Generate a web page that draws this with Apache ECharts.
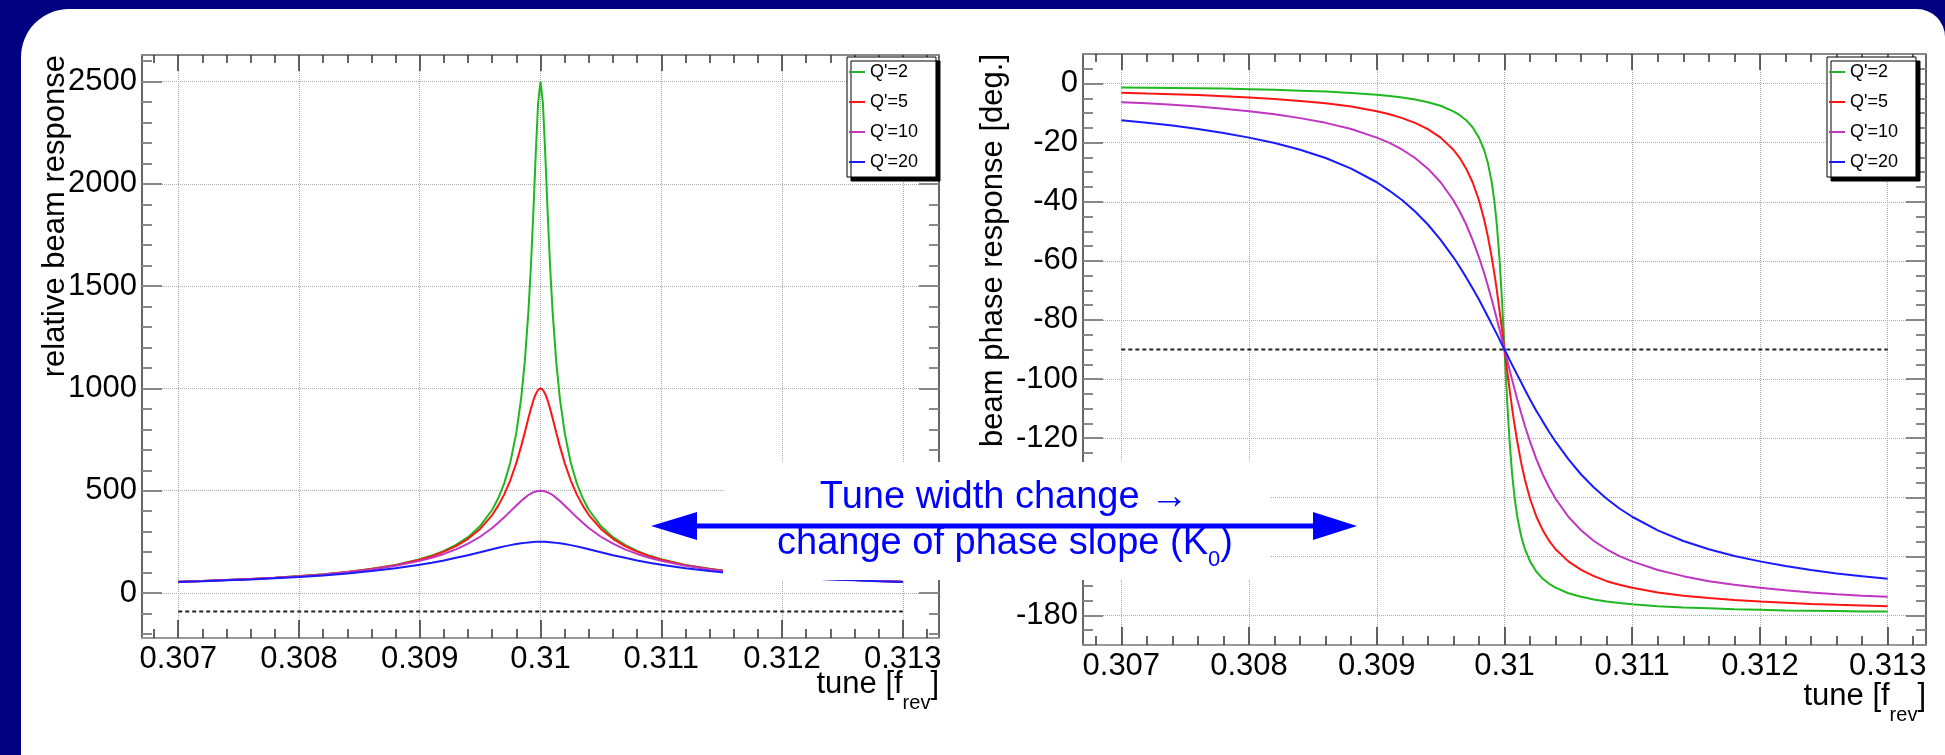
<!DOCTYPE html>
<html>
<head>
<meta charset="utf-8">
<script src="https://cdn.jsdelivr.net/npm/echarts@6/dist/echarts.min.js"></script>
<style>
  html, body { margin: 0; padding: 0; background: #000080; }
  #chart { width: 1945px; height: 755px; }
</style>
</head>
<body>
<div id="chart"></div>
<script>
// tune samples (fraction of f_rev), denser near the resonance at 0.31
const tune = [0.307, 0.3072, 0.3074, 0.3076, 0.3078, 0.308, 0.3082, 0.3084, 0.3086, 0.3088,
              0.309, 0.3091, 0.3092, 0.3093, 0.3094, 0.3095, 0.3096, 0.30965, 0.3097, 0.30975,
              0.3098, 0.30984, 0.30987, 0.3099, 0.30992, 0.30994, 0.30996, 0.30998, 0.31,
              0.31002, 0.31004, 0.31006, 0.31008, 0.3101, 0.31013, 0.31016, 0.3102, 0.31025,
              0.3103, 0.31035, 0.3104, 0.3105, 0.3106, 0.3107, 0.3108, 0.3109, 0.311,
              0.3112, 0.3114, 0.3116, 0.3118, 0.312, 0.3122, 0.3124, 0.3126, 0.3128, 0.313];

// relative beam response (left panel)
const ampQ2 = [55, 59, 63, 69, 75, 83, 92, 103, 118, 137, 165, 183, 206, 235, 273, 327, 407, 463, 537, 638,
               784, 953, 1132, 1377, 1591, 1850, 2138, 2393, 2500,
               2393, 2138, 1850, 1591, 1377, 1132, 953, 784, 638, 537, 463, 407, 327, 273, 235, 206, 183, 165,
               137, 118, 103, 92, 83, 75, 69, 63, 59, 55];
const ampQ5 = [55, 59, 63, 69, 75, 82, 91, 103, 117, 136, 163, 180, 202, 229, 265, 313, 381, 427, 482, 551,
               636, 718, 785, 855, 900, 940, 972, 993, 1000,
               993, 972, 940, 900, 855, 785, 718, 636, 551, 482, 427, 381, 313, 265, 229, 202, 180, 163,
               136, 117, 103, 91, 82, 75, 69, 63, 59, 55];
const ampQ10 = [55, 59, 63, 68, 74, 81, 90, 101, 115, 133, 157, 172, 191, 213, 241, 275, 318, 343, 370, 399,
                428, 450, 465, 479, 486, 492, 496, 499, 500,
                499, 496, 492, 486, 479, 465, 450, 428, 399, 370, 343, 318, 275, 241, 213, 191, 172, 157,
                133, 115, 101, 90, 81, 74, 68, 63, 59, 55];
const ampQ20 = [54, 57, 62, 66, 72, 78, 86, 95, 107, 121, 138, 148, 159, 172, 185, 199, 214, 221, 228, 234,
                239, 243, 245, 247, 248, 249, 250, 250, 250,
                250, 250, 249, 248, 247, 245, 243, 239, 234, 228, 221, 214, 199, 185, 172, 159, 148, 138,
                121, 107, 95, 86, 78, 72, 66, 62, 57, 54];

// beam phase response in degrees (right panel)
const phaseQ2 = [-1.3, -1.4, -1.5, -1.6, -1.7, -1.9, -2.1, -2.4, -2.7, -3.2, -3.8, -4.2, -4.7, -5.4, -6.3,
                 -7.5, -9.4, -10.7, -12.4, -14.8, -18.3, -22.4, -26.9, -33.4, -39.5, -47.7, -58.8, -73.1, -90,
                 -106.9, -121.2, -132.3, -140.5, -146.6, -153.1, -157.6, -161.7, -165.2, -167.6, -169.3, -170.6,
                 -172.5, -173.7, -174.6, -175.3, -175.8, -176.2, -176.9, -177.3, -177.6, -177.9, -178.1, -178.3,
                 -178.4, -178.5, -178.7, -178.7];
const phaseQ5 = [-3.1, -3.4, -3.6, -3.9, -4.3, -4.7, -5.2, -5.9, -6.7, -7.8, -9.4, -10.4, -11.7, -13.3, -15.4,
                 -18.3, -22.4, -25.2, -28.8, -33.4, -39.5, -45.9, -51.8, -58.8, -64.1, -70.0, -76.4, -83.1, -90,
                 -96.9, -103.6, -110.0, -115.9, -121.2, -128.2, -134.1, -140.5, -146.6, -151.2, -154.8, -157.6,
                 -161.7, -164.6, -166.7, -168.4, -169.6, -170.6, -172.2, -173.3, -174.1, -174.8, -175.3, -175.7,
                 -176.1, -176.4, -176.6, -176.9];
const phaseQ10 = [-6.3, -6.7, -7.2, -7.8, -8.5, -9.4, -10.4, -11.7, -13.3, -15.4, -18.3, -20.1, -22.4, -25.2,
                  -28.8, -33.4, -39.5, -43.3, -47.7, -52.9, -58.8, -64.1, -68.5, -73.1, -76.4, -79.7, -83.1, -86.5, -90,
                  -93.5, -96.9, -100.3, -103.6, -106.9, -111.5, -115.9, -121.2, -127.2, -132.3, -136.7, -140.5,
                  -146.6, -151.2, -154.8, -157.6, -159.9, -161.7, -164.6, -166.7, -168.4, -169.6, -170.6, -171.5,
                  -172.2, -172.8, -173.3, -173.7];
const phaseQ20 = [-12.4, -13.3, -14.2, -15.4, -16.7, -18.3, -20.1, -22.4, -25.2, -28.8, -33.4, -36.3, -39.5,
                  -43.3, -47.7, -52.9, -58.8, -62.1, -65.6, -69.3, -73.1, -76.4, -78.9, -81.4, -83.1, -84.8, -86.5,
                  -88.3, -90,
                  -91.7, -93.5, -95.2, -96.9, -98.6, -101.1, -103.6, -106.9, -110.8, -114.4, -117.9, -121.2,
                  -127.1, -132.3, -136.7, -140.5, -143.8, -146.6, -151.2, -154.8, -157.6, -159.9, -161.7, -163.3,
                  -164.6, -165.8, -166.7, -167.6];

// dashed reference line at -90
const refX = [0.307, 0.313];
const refY = [-90, -90];

const names = ["Q'=2", "Q'=5", "Q'=10", "Q'=20"];
const colors = ['#1fb81f', '#ff1414', '#c036c0', '#1a1aff'];

const tuneTicks = [0.307, 0.308, 0.309, 0.31, 0.311, 0.312, 0.313];
const tuneMinorTicks = [0.3068, 0.307, 0.3072, 0.3074, 0.3076, 0.3078, 0.308, 0.3082, 0.3084, 0.3086, 0.3088,
                        0.309, 0.3092, 0.3094, 0.3096, 0.3098, 0.31, 0.3102, 0.3104, 0.3106, 0.3108, 0.311,
                        0.3112, 0.3114, 0.3116, 0.3118, 0.312, 0.3122, 0.3124, 0.3126, 0.3128, 0.313, 0.3132];
const ampTicks = [0, 500, 1000, 1500, 2000, 2500];
const ampMinorTicks = [-200, -100, 0, 100, 200, 300, 400, 500, 600, 700, 800, 900, 1000, 1100, 1200, 1300, 1400,
                       1500, 1600, 1700, 1800, 1900, 2000, 2100, 2200, 2300, 2400, 2500, 2600];
const phaseTicks = [-180, -160, -140, -120, -100, -80, -60, -40, -20, 0];
const phaseMinorTicks = [-190, -185, -180, -175, -170, -165, -160, -155, -150, -145, -140, -135, -130, -125, -120,
                         -115, -110, -105, -100, -95, -90, -85, -80, -75, -70, -65, -60, -55, -50, -45, -40,
                         -35, -30, -25, -20, -15, -10, -5, 0, 5, 10];

const FONT = '"Liberation Sans", Arial, sans-serif';
const chart = echarts.init(document.getElementById('chart'));

function zip(xs, ys) {
  return xs.map((x, i) => [x, ys[i]]);
}

// ROOT-style frame: major + minor ticks on all four sides, grid at the majors
function tickAxis(g, pos, min, max, values, len, extra) {
  return Object.assign({
    type: 'value', gridIndex: g, position: pos, min: min, max: max,
    axisLine: { show: false, onZero: false },
    axisTick: { show: true, inside: true, length: len, customValues: values,
                lineStyle: { color: '#333', width: 1.5 } },
    axisLabel: { show: false },
    splitLine: { show: false }
  }, extra || {});
}

function xAxesFor(g) {
  const min = 0.3067, max = 0.3133;
  return [
    tickAxis(g, 'bottom', min, max, tuneTicks, 18, {
      axisLine: { show: true, onZero: false, lineStyle: { color: '#999', width: 2 } },
      axisLabel: { show: true, customValues: tuneTicks, fontSize: 31, color: '#000', margin: 6, fontFamily: FONT,
                   formatter: v => String(v) },
      splitLine: { show: true, lineStyle: { color: '#aaa', width: 1, type: [1, 1] } }
    }),
    tickAxis(g, 'bottom', min, max, tuneMinorTicks, 9),
    tickAxis(g, 'top', min, max, tuneTicks, 16, {
      axisLine: { show: true, onZero: false, lineStyle: { color: '#888', width: 2 } }
    }),
    tickAxis(g, 'top', min, max, tuneMinorTicks, 8)
  ];
}

function yAxesFor(g, min, max, major, minor) {
  const tickStyle = { color: '#888', width: 2 };
  return [
    tickAxis(g, 'left', min, max, major, 20, {
      axisLine: { show: true, onZero: false, lineStyle: { color: '#333', width: 1.5 } },
      axisTick: { show: true, inside: true, length: 20, customValues: major, lineStyle: tickStyle },
      axisLabel: { show: true, customValues: major, fontSize: 31, color: '#000', margin: 5, fontFamily: FONT,
                   formatter: v => String(v) },
      splitLine: { show: true, lineStyle: { color: '#aaa', width: 1, type: [1, 1] } }
    }),
    tickAxis(g, 'left', min, max, minor, 10, {
      axisTick: { show: true, inside: true, length: 10, customValues: minor, lineStyle: tickStyle }
    }),
    tickAxis(g, 'right', min, max, major, 20, {
      axisLine: { show: true, onZero: false, lineStyle: { color: '#333', width: 1.5 } },
      axisTick: { show: true, inside: true, length: 20, customValues: major, lineStyle: tickStyle }
    }),
    tickAxis(g, 'right', min, max, minor, 10, {
      axisTick: { show: true, inside: true, length: 10, customValues: minor, lineStyle: tickStyle }
    })
  ];
}

function curves(axisIndex, arrays) {
  const out = arrays.map((ys, i) => ({
    name: names[i], type: 'line', xAxisIndex: axisIndex, yAxisIndex: axisIndex,
    data: zip(tune, ys), showSymbol: false, smooth: false,
    color: colors[i], lineStyle: { width: 2, color: colors[i] }, z: 3
  }));
  out.push({
    type: 'line', xAxisIndex: axisIndex, yAxisIndex: axisIndex, data: zip(refX, refY),
    showSymbol: false, silent: true, color: '#222',
    lineStyle: { color: '#222', width: 2, type: [4, 3] }, z: 2
  });
  return out;
}

function legendAt(left) {
  return {
    data: names, orient: 'vertical', left: left, top: 57,
    backgroundColor: '#fff', borderColor: '#000', borderWidth: 1,
    shadowColor: '#000', shadowBlur: 0, shadowOffsetX: 4, shadowOffsetY: 4,
    padding: [6, 18, 6, 2], itemGap: 12, itemWidth: 16, itemHeight: 2, icon: 'rect',
    textStyle: { fontSize: 18, color: '#000', fontFamily: FONT }
  };
}

const option = {
  animation: false,
  backgroundColor: '#000080',
  textStyle: { fontFamily: FONT },
  grid: [
    { left: 142, top: 55, width: 797, height: 583, outerBoundsMode: 'none' },
    { left: 1083, top: 54, width: 843, height: 591, outerBoundsMode: 'none' }
  ],
  legend: [legendAt(847), legendAt(1827)],
  xAxis: xAxesFor(0).concat(xAxesFor(1)),
  yAxis: yAxesFor(0, -220, 2630, ampTicks, ampMinorTicks).concat(yAxesFor(1, -190, 10, phaseTicks, phaseMinorTicks)),
  series: curves(0, [ampQ2, ampQ5, ampQ10, ampQ20]).concat(curves(4, [phaseQ2, phaseQ5, phaseQ10, phaseQ20])),
  graphic: [
    // slide panel
    { type: 'rect', z: -100, shape: { x: 21, y: 9, width: 1924, height: 800, r: [48, 28, 0, 0] }, style: { fill: '#fff' } },
    // axis titles
    { type: 'text', x: 55, y: 55, rotation: Math.PI / 2, z: 10,
      style: { text: 'relative beam response', font: '31px ' + FONT, fill: '#000', align: 'right', textAlign: 'right', verticalAlign: 'middle', textVerticalAlign: 'middle' } },
    { type: 'text', x: 993, y: 54, rotation: Math.PI / 2, z: 10,
      style: { text: 'beam phase response [deg.]', font: '31px ' + FONT, fill: '#000', align: 'right', textAlign: 'right', verticalAlign: 'middle', textVerticalAlign: 'middle' } },
    { type: 'text', x: 939, y: 669, z: 10,
      style: { text: '{a|tune [f}{s|rev}{a|]}', fill: '#000', align: 'right', textAlign: 'right', verticalAlign: 'top', textVerticalAlign: 'top',
               rich: { a: { fontSize: 31, lineHeight: 31, verticalAlign: 'top', fontFamily: FONT, fill: '#000' },
                       s: { fontSize: 20, lineHeight: 20, verticalAlign: 'top', padding: [24, 0, 0, 0], fontFamily: FONT, fill: '#000' } } } },
    { type: 'text', x: 1926, y: 681, z: 10,
      style: { text: '{a|tune [f}{s|rev}{a|]}', fill: '#000', align: 'right', textAlign: 'right', verticalAlign: 'top', textVerticalAlign: 'top',
               rich: { a: { fontSize: 31, lineHeight: 31, verticalAlign: 'top', fontFamily: FONT, fill: '#000' },
                       s: { fontSize: 20, lineHeight: 20, verticalAlign: 'top', padding: [24, 0, 0, 0], fontFamily: FONT, fill: '#000' } } } },
    // annotation
    { type: 'rect', z: 100, shape: { x: 723, y: 462, width: 548, height: 118 }, style: { fill: '#fff' } },
    { type: 'line', z: 101, shape: { x1: 690, y1: 526, x2: 1320, y2: 526 }, style: { stroke: '#0000ff', lineWidth: 5 } },
    { type: 'polygon', z: 101, shape: { points: [[651, 526], [697, 512], [697, 540]] }, style: { fill: '#0000ff' } },
    { type: 'polygon', z: 101, shape: { points: [[1357, 526], [1313, 512], [1313, 540]] }, style: { fill: '#0000ff' } },
    { type: 'text', x: 1004, y: 498, z: 101,
      style: { text: 'Tune width change \u2192', font: '38px ' + FONT, fill: '#0000ff', align: 'center', textAlign: 'center', verticalAlign: 'middle', textVerticalAlign: 'middle' } },
    { type: 'text', x: 1005, y: 525, z: 101,
      style: { text: '{t|change of phase slope (K}{s|0}{t|)}', fill: '#0000ff', align: 'center', textAlign: 'center', verticalAlign: 'top', textVerticalAlign: 'top',
               rich: { t: { fontSize: 38, lineHeight: 38, verticalAlign: 'top', fontFamily: FONT, fill: '#0000ff' },
                       s: { fontSize: 22, lineHeight: 22, verticalAlign: 'top', padding: [24, 0, 0, 0], fontFamily: FONT, fill: '#0000ff' } } } }
  ]
};

chart.setOption(option);
</script>
</body>
</html>
